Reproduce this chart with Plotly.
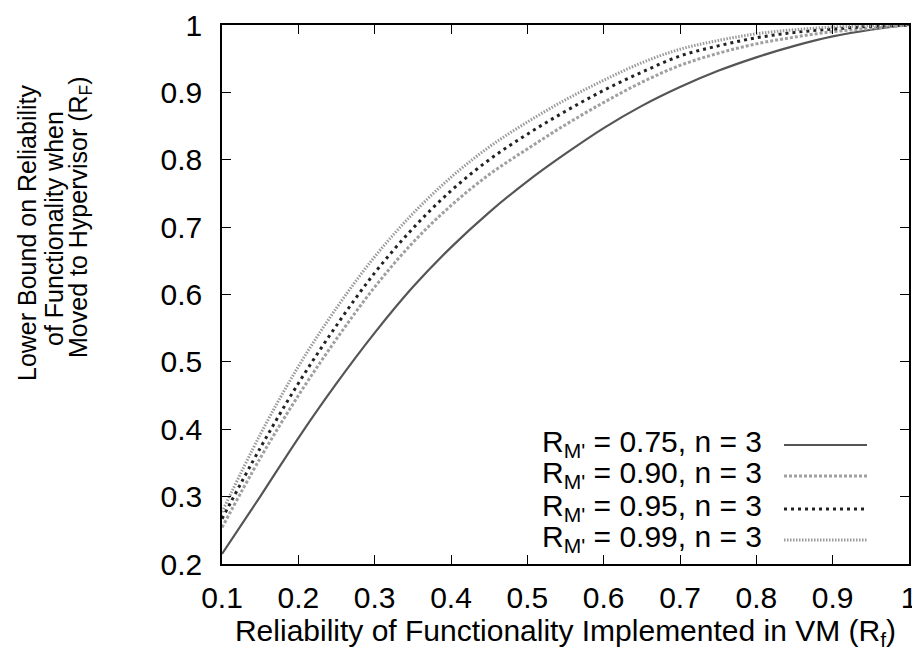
import plotly.graph_objects as go

# ---- data ----
rf = [0.1, 0.15, 0.2, 0.25, 0.3, 0.35, 0.4, 0.45, 0.5, 0.55, 0.6, 0.65, 0.7, 0.75, 0.8, 0.85, 0.9, 0.95, 1.0]
r075 = [0.215, 0.300, 0.387, 0.468, 0.543, 0.611, 0.670, 0.722, 0.768, 0.809, 0.847, 0.880, 0.908, 0.932, 0.952, 0.969, 0.983, 0.993, 1.0]
r090 = [0.254, 0.357, 0.450, 0.534, 0.611, 0.677, 0.732, 0.778, 0.816, 0.852, 0.885, 0.915, 0.940, 0.958, 0.972, 0.982, 0.990, 0.995, 1.0]
r095 = [0.267, 0.372, 0.468, 0.554, 0.632, 0.698, 0.754, 0.800, 0.838, 0.872, 0.903, 0.930, 0.954, 0.969, 0.981, 0.989, 0.994, 0.998, 1.0]
r099 = [0.277, 0.392, 0.493, 0.580, 0.656, 0.720, 0.774, 0.819, 0.856, 0.889, 0.918, 0.944, 0.964, 0.977, 0.987, 0.993, 0.997, 0.999, 1.0]

series_labels = ["R<sub>M'</sub> = 0.75, n = 3", "R<sub>M'</sub> = 0.90, n = 3",
                 "R<sub>M'</sub> = 0.95, n = 3", "R<sub>M'</sub> = 0.99, n = 3"]
x_ticks = [0.1, 0.2, 0.3, 0.4, 0.5, 0.6, 0.7, 0.8, 0.9, 1.0]
x_ticktext = ["0.1", "0.2", "0.3", "0.4", "0.5", "0.6", "0.7", "0.8", "0.9", "1"]
y_ticks = [0.2, 0.3, 0.4, 0.5, 0.6, 0.7, 0.8, 0.9, 1.0]
y_ticktext = ["0.2", "0.3", "0.4", "0.5", "0.6", "0.7", "0.8", "0.9", "1"]

styles = [
    dict(color="#555555", width=2.2, dash="solid"),
    dict(color="#a0a0a0", width=3, dash="3px,2px"),
    dict(color="#222222", width=3, dash="3px,4px"),
    dict(color="#9a9a9a", width=3, dash="1.5px,1.5px"),
]

FONT = "Liberation Sans, Arial, Helvetica, sans-serif"

fig = go.Figure()
for ys, st, name in zip([r075, r090, r095, r099], styles, series_labels):
    fig.add_trace(go.Scatter(x=rf, y=ys, mode="lines", name=name,
                             line=dict(color=st["color"], width=st["width"], dash=st["dash"], shape="spline"),
                             showlegend=False))

# the page body has an 8px margin; the figure is sized so it fits the window
OFF = 8
W, H = 920 - OFF, 662 - OFF
L, T = 222 - OFF, 25 - OFF
R = W - (909 - OFF)
B = H - (564 - OFF)
pw, ph = W - L - R, H - T - B

def px(xw):
    return (xw - OFF - L) / pw

def py(yw):
    return (H - B - (yw - OFF)) / ph

# gnuplot-style key: text right-aligned, sample to the right
row_y = [443, 474, 507, 538]
for lbl, st, yy in zip(series_labels, styles, row_y):
    fig.add_annotation(xref="paper", yref="paper", x=px(764), y=py(yy), text=lbl,
                       showarrow=False, xanchor="right", yanchor="middle",
                       font=dict(family=FONT, size=30, color="#000"))
    fig.add_shape(type="line", xref="paper", yref="paper",
                  x0=px(784), x1=px(867), y0=py(yy + 2), y1=py(yy + 2),
                  line=dict(color=st["color"], width=st["width"], dash=st["dash"]))

# multi-line rotated y title
ytitle_lines = ["Lower Bound on Reliability", "of Functionality when", "Moved to Hypervisor (R<sub>F</sub>)"]
for line, xc, yc in zip(ytitle_lines, [27, 54, 80], [233, 229, 217]):
    fig.add_annotation(xref="paper", yref="paper", x=px(xc), y=py(yc), text=line,
                       showarrow=False, textangle=-90, xanchor="center", yanchor="middle",
                       font=dict(family=FONT, size=25, color="#000"))

axis_common = dict(showline=True, linecolor="#000", linewidth=1.5, mirror="allticks",
                   ticks="inside", ticklen=9, tickwidth=1.3, tickcolor="#000",
                   showgrid=False, zeroline=False, ticklabeloverflow="allow",
                   tickfont=dict(family=FONT, size=30, color="#000"))

fig.update_xaxes(range=[0.1, 1.0], tickvals=x_ticks, ticktext=x_ticktext,
                 title=dict(text="Reliability of Functionality Implemented in VM (R<sub>f</sub>)",
                            font=dict(family=FONT, size=30, color="#000"), standoff=2),
                 ticklabelstandoff=6, **axis_common)
fig.update_yaxes(range=[0.2, 1.0], tickvals=y_ticks, ticktext=y_ticktext,
                 ticklabelstandoff=12, **axis_common)

fig.update_layout(width=W, height=H, margin=dict(l=L, r=R, t=T, b=B, autoexpand=False),
                  paper_bgcolor="white", plot_bgcolor="white",
                  font=dict(family=FONT, color="#000"))

fig.write_html("out.html")
